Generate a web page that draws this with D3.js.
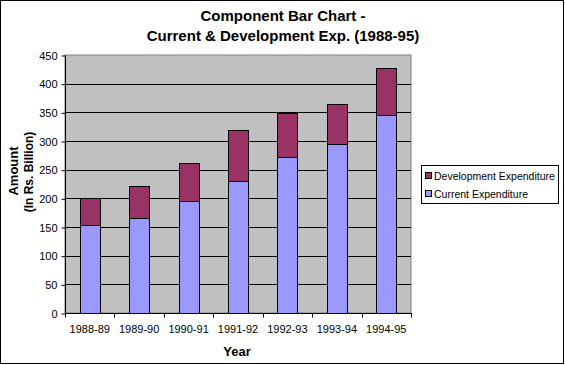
<!DOCTYPE html>
<html>
<head>
<meta charset="utf-8">
<script src="https://cdn.jsdelivr.net/npm/d3@7"></script>
<style>
  body { margin: 0; background: #fff; }
  svg { display: block; font-family: "Liberation Sans", Arial, sans-serif; }
</style>
</head>
<body>
<script>
var years = ['1988-89', '1989-90', '1990-91', '1991-92', '1992-93', '1993-94', '1994-95']
var current = [153, 165, 195, 230, 272, 294, 345]
var development = [47, 56, 66, 90, 77, 70, 82]
var yTicks = [0, 50, 100, 150, 200, 250, 300, 350, 400, 450]

var width = 565
var height = 365
var plot = { left: 65, right: 411, top: 55, bottom: 313 }

var svg = d3.select('body').append('svg')
  .attr('width', width)
  .attr('height', height)

svg.append('rect')
  .attr('x', 0.5).attr('y', 0.5)
  .attr('width', width - 2).attr('height', height - 2)
  .attr('fill', '#fff').attr('stroke', '#000')

var x = d3.scaleBand().domain(years).range([plot.left, plot.right])
var y = d3.scaleLinear().domain([0, 450]).range([plot.bottom, plot.top])

svg.append('rect')
  .attr('x', plot.left).attr('y', plot.top)
  .attr('width', plot.right - plot.left).attr('height', plot.bottom - plot.top)
  .attr('fill', '#c0c0c0').attr('stroke', '#808080')

// gridlines
svg.append('g').selectAll('line')
  .data(yTicks.slice(1, -1))
  .enter().append('line')
  .attr('x1', plot.left).attr('x2', plot.right)
  .attr('y1', function (d) { return Math.round(y(d)) + 0.5 })
  .attr('y2', function (d) { return Math.round(y(d)) + 0.5 })
  .attr('stroke', '#000')

var stack = years.map(function (yr, i) {
  return { year: yr, current: current[i], dev: development[i] }
})

var barW = 20
var bars = svg.append('g').selectAll('g')
  .data(stack)
  .enter().append('g')

bars.append('rect')
  .attr('x', function (d) { return Math.round(x(d.year) + x.bandwidth() / 2 - barW / 2) + 0.5 })
  .attr('y', function (d) { return Math.round(y(d.current)) + 0.5 })
  .attr('width', barW)
  .attr('height', function (d) { return Math.round(y(0)) - Math.round(y(d.current)) })
  .attr('fill', '#9999ff').attr('stroke', '#000')

bars.append('rect')
  .attr('x', function (d) { return Math.round(x(d.year) + x.bandwidth() / 2 - barW / 2) + 0.5 })
  .attr('y', function (d) { return Math.round(y(d.current + d.dev)) + 0.5 })
  .attr('width', barW)
  .attr('height', function (d) { return Math.round(y(d.current)) - Math.round(y(d.current + d.dev)) })
  .attr('fill', '#993366').attr('stroke', '#000')

// axes
var yAxis = svg.append('g')
  .attr('transform', 'translate(' + (plot.left + 0.5) + ',0.5)')
  .call(d3.axisLeft(y).tickValues(yTicks).tickSize(4).tickPadding(4))
yAxis.select('.domain').attr('d', 'M0,' + plot.top + 'V' + plot.bottom)

var xAxis = svg.append('g')
  .attr('transform', 'translate(0,' + (plot.bottom + 0.5) + ')')
  .call(d3.axisBottom(x).tickSize(0).tickPadding(12))
xAxis.select('.domain').remove()
xAxis.selectAll('.tick line').remove()
xAxis.selectAll('line.sep')
  .data(d3.range(years.length + 1))
  .enter().append('line')
  .attr('class', 'sep')
  .attr('x1', function (i) { return Math.round(plot.left + i * x.step()) + 0.5 })
  .attr('x2', function (i) { return Math.round(plot.left + i * x.step()) + 0.5 })
  .attr('y1', 0).attr('y2', 4)
  .attr('stroke', '#000')
xAxis.append('line')
  .attr('x1', plot.left).attr('x2', plot.right + 1)
  .attr('stroke', '#000')

svg.selectAll('.tick text').attr('font-size', 11).attr('fill', '#000')
  .attr('font-family', '"Liberation Sans", Arial, sans-serif')

// titles
svg.append('text').attr('x', 283).attr('y', 21)
  .attr('text-anchor', 'middle').attr('font-size', 15).attr('font-weight', 'bold')
  .text('Component Bar Chart -')
svg.append('text').attr('x', 283).attr('y', 41)
  .attr('text-anchor', 'middle').attr('font-size', 15).attr('font-weight', 'bold')
  .text('Current & Development Exp. (1988-95)')

svg.append('text').attr('x', 237).attr('y', 356)
  .attr('text-anchor', 'middle').attr('font-size', 13).attr('font-weight', 'bold')
  .text('Year')

svg.append('text')
  .attr('transform', 'translate(18,171) rotate(-90)')
  .attr('text-anchor', 'middle').attr('font-size', 13).attr('font-weight', 'bold')
  .text('Amount')
svg.append('text')
  .attr('transform', 'translate(33,172) rotate(-90)')
  .attr('text-anchor', 'middle').attr('font-size', 12).attr('font-weight', 'bold')
  .text('(In Rs. Billion)')

// legend
svg.append('rect')
  .attr('x', 421.5).attr('y', 165.5).attr('width', 137).attr('height', 38)
  .attr('fill', '#fff').attr('stroke', '#000')
var legendItems = [
  { name: 'Development Expenditure', color: '#993366' },
  { name: 'Current Expenditure', color: '#9999ff' }
]
var li = svg.selectAll('g.leg')
  .data(legendItems)
  .enter().append('g')
  .attr('class', 'leg')
  .attr('transform', function (d, i) { return 'translate(425,' + (172 + i * 18) + ')' })
li.append('rect')
  .attr('x', 0.5).attr('y', 0.5).attr('width', 6).attr('height', 6)
  .attr('fill', function (d) { return d.color }).attr('stroke', '#000')
li.append('text')
  .attr('x', 9).attr('y', 8)
  .attr('font-size', 10.5)
  .text(function (d) { return d.name })
</script>
</body>
</html>
